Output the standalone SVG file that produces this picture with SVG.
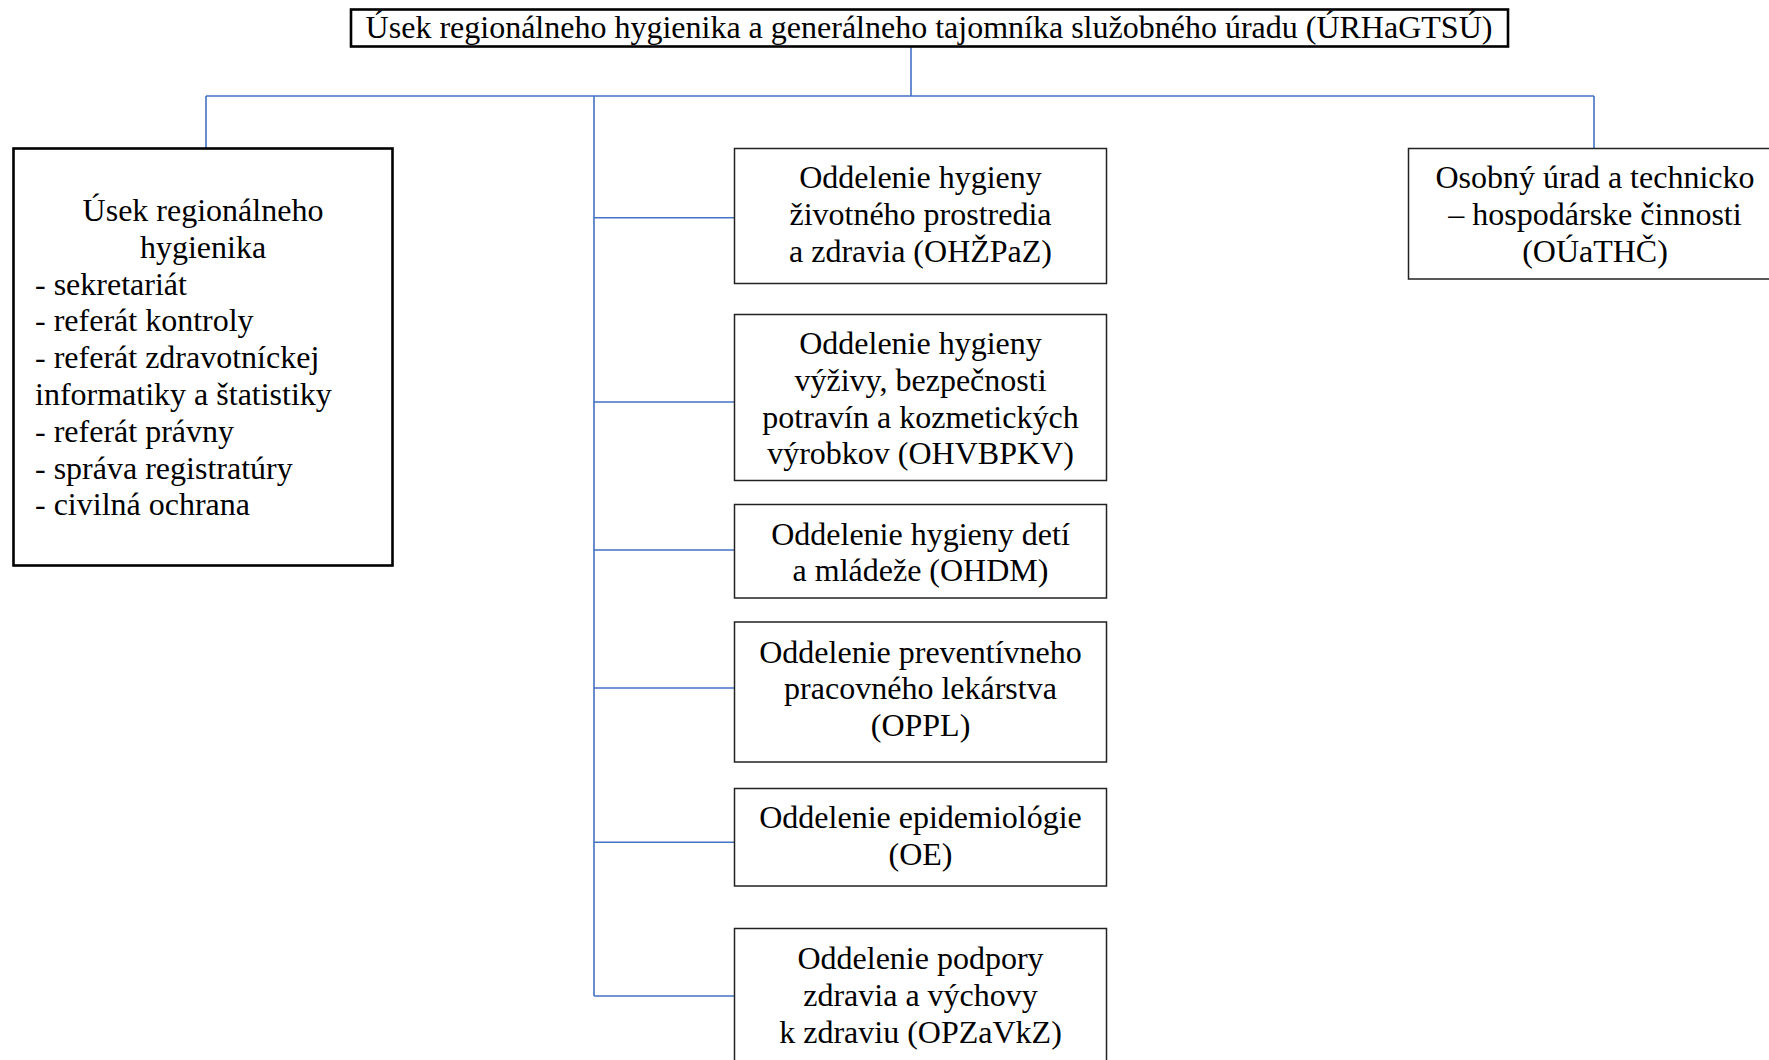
<svg xmlns="http://www.w3.org/2000/svg" width="1769" height="1060" viewBox="0 0 1769 1060">
<style>
.t{font-family:"Liberation Serif","Times New Roman",serif;font-size:32px;fill:#000}
.c{text-anchor:middle}
.box{fill:#fff;stroke:#222;stroke-width:1.5}
.thick{fill:#fff;stroke:#000;stroke-width:2.6}
.conn{fill:none;stroke:#4472C4;stroke-width:1.6}
</style>
<rect width="1769" height="1060" fill="#fff"/>
<g id="connectors">
<path class="conn" d="M911 47V96M206 96H1594M206 96V148M1594 96V148M594 96V996"/>
<path class="conn" d="M594 217.7H734M594 402H734M594 550H734M594 688H734M594 842.3H734M594 996H734"/>
</g>
<g id="title">
<rect class="thick" x="351" y="9.5" width="1157" height="37"/>
<text class="t c" x="929" y="38">Úsek regionálneho hygienika a generálneho tajomníka služobného úradu (ÚRHaGTSÚ)</text>
</g>
<g id="node-urh">
<rect class="thick" x="13.5" y="148.5" width="379" height="417"/>
<text class="t c" x="203" y="221">Úsek regionálneho</text>
<text class="t c" x="203" y="257.8">hygienika</text>
<text class="t" x="35" y="294.6">- sekretariát</text>
<text class="t" x="35" y="331.4">- referát kontroly</text>
<text class="t" x="35" y="368.2">- referát zdravotníckej</text>
<text class="t" x="35" y="405">informatiky a štatistiky</text>
<text class="t" x="35" y="441.8">- referát právny</text>
<text class="t" x="35" y="478.6">- správa registratúry</text>
<text class="t" x="35" y="515.4">- civilná ochrana</text>
</g>
<g id="node-ohzpaz">
<rect class="box" x="734.5" y="148.5" width="372" height="135"/>
<text class="t c" x="920.5" y="188.3">Oddelenie hygieny</text>
<text class="t c" x="920.5" y="225">životného prostredia</text>
<text class="t c" x="920.5" y="261.7">a zdravia (OHŽPaZ)</text>
</g>
<g id="node-ohvbpkv">
<rect class="box" x="734.5" y="314.5" width="372" height="166"/>
<text class="t c" x="920.5" y="354">Oddelenie hygieny</text>
<text class="t c" x="920.5" y="390.8">výživy, bezpečnosti</text>
<text class="t c" x="920.5" y="427.6">potravín a kozmetických</text>
<text class="t c" x="920.5" y="464.4">výrobkov (OHVBPKV)</text>
</g>
<g id="node-ohdm">
<rect class="box" x="734.5" y="504.5" width="372" height="93.5"/>
<text class="t c" x="920.5" y="544.5">Oddelenie hygieny detí</text>
<text class="t c" x="920.5" y="581.3">a mládeže (OHDM)</text>
</g>
<g id="node-oppl">
<rect class="box" x="734.5" y="622" width="372" height="140"/>
<text class="t c" x="920.5" y="662.5">Oddelenie preventívneho</text>
<text class="t c" x="920.5" y="699.3">pracovného lekárstva</text>
<text class="t c" x="920.5" y="736.1">(OPPL)</text>
</g>
<g id="node-oe">
<rect class="box" x="734.5" y="788.5" width="372" height="97.5"/>
<text class="t c" x="920.5" y="828">Oddelenie epidemiológie</text>
<text class="t c" x="920.5" y="864.8">(OE)</text>
</g>
<g id="node-opzavkz">
<rect class="box" x="734.5" y="928.5" width="372" height="142"/>
<text class="t c" x="920.5" y="969">Oddelenie podpory</text>
<text class="t c" x="920.5" y="1005.8">zdravia a výchovy</text>
<text class="t c" x="920.5" y="1042.6">k zdraviu (OPZaVkZ)</text>
</g>
<g id="node-ouathc">
<rect class="box" x="1408.5" y="148.5" width="374" height="130.5"/>
<text class="t c" x="1595" y="188">Osobný úrad a technicko</text>
<text class="t c" x="1595" y="224.8">– hospodárske činnosti</text>
<text class="t c" x="1595" y="261.6">(OÚaTHČ)</text>
</g>
</svg>
